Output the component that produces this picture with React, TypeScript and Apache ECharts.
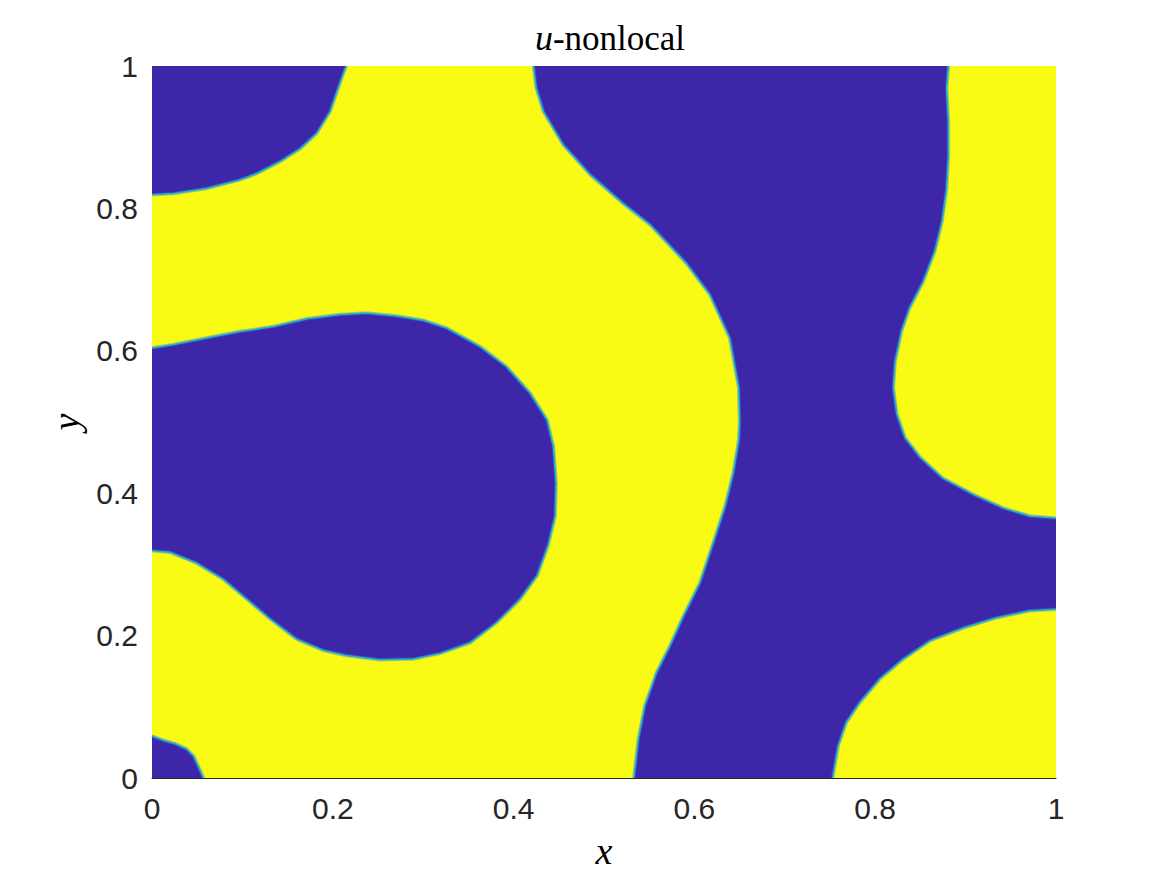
import React, { useEffect, useRef } from "react";
import * as echarts from "echarts";

// Phase boundaries of u (x, y)
const topLeftBoundary: number[][] = [
  [0, 0.819], [0.024, 0.821], [0.06, 0.828], [0.097, 0.84], [0.116, 0.849], [0.142, 0.866],
  [0.164, 0.884], [0.182, 0.905], [0.197, 0.936], [0.206, 0.969], [0.213, 0.994], [0.215, 1],
];
const centralBoundary: number[][] = [
  [0.422, 1], [0.425, 0.969], [0.433, 0.936], [0.455, 0.889], [0.485, 0.847], [0.521, 0.807],
  [0.551, 0.777], [0.591, 0.723], [0.617, 0.679], [0.639, 0.618], [0.649, 0.548], [0.65, 0.501],
  [0.649, 0.475], [0.643, 0.429], [0.634, 0.382], [0.621, 0.331], [0.606, 0.274], [0.588, 0.228],
  [0.573, 0.186], [0.558, 0.148], [0.545, 0.101], [0.538, 0.055], [0.533, 0],
];
const innerBlobBoundary: number[][] = [
  [0, 0.604], [0.024, 0.609], [0.06, 0.618], [0.097, 0.627], [0.134, 0.634], [0.171, 0.645],
  [0.208, 0.651], [0.237, 0.653], [0.271, 0.649], [0.3, 0.643], [0.326, 0.632], [0.363, 0.606],
  [0.392, 0.578], [0.418, 0.541], [0.437, 0.503], [0.444, 0.466], [0.447, 0.414], [0.446, 0.368],
  [0.438, 0.326], [0.426, 0.284], [0.407, 0.251], [0.381, 0.218], [0.352, 0.19], [0.319, 0.175],
  [0.289, 0.167], [0.252, 0.166], [0.215, 0.172], [0.19, 0.179], [0.16, 0.195], [0.131, 0.223],
  [0.105, 0.251], [0.079, 0.279], [0.049, 0.302], [0.02, 0.317], [0, 0.319],
];
const cornerBlobBoundary: number[][] = [
  [0, 0.059], [0.0125, 0.053], [0.026, 0.048], [0.038, 0.041], [0.046, 0.031], [0.051, 0.017], [0.057, 0],
];
const topRightBoundary: number[][] = [
  [0.881, 1], [0.879, 0.969], [0.881, 0.922], [0.881, 0.875], [0.879, 0.828], [0.874, 0.782],
  [0.866, 0.74], [0.853, 0.697], [0.838, 0.66], [0.829, 0.627], [0.822, 0.585], [0.82, 0.548],
  [0.824, 0.511], [0.833, 0.478], [0.85, 0.45], [0.875, 0.421], [0.909, 0.398], [0.942, 0.379],
  [0.971, 0.368], [1, 0.365],
];
const bottomRightBoundary: number[][] = [
  [1, 0.237], [0.971, 0.235], [0.934, 0.225], [0.898, 0.211], [0.861, 0.193], [0.831, 0.167],
  [0.805, 0.139], [0.783, 0.106], [0.768, 0.078], [0.759, 0.045], [0.754, 0.008], [0.753, 0],
];
const domainCorners: number[][] = [[0, 0], [1, 0], [1, 1], [0, 1]];

const BLUE = "#3e26a8";
const YELLOW = "#f9fb15";

const fills: { pts: number[][]; color: string }[] = [
  { pts: domainCorners, color: BLUE },
  { pts: [...topLeftBoundary, ...centralBoundary, [0, 0]], color: YELLOW },
  { pts: [...topRightBoundary, [1, 1]], color: YELLOW },
  { pts: [...bottomRightBoundary, [1, 0]], color: YELLOW },
  { pts: innerBlobBoundary, color: BLUE },
  { pts: [[0, 0], ...cornerBlobBoundary], color: BLUE },
];
const edges: number[][][] = [
  topLeftBoundary,
  centralBoundary,
  topRightBoundary,
  bottomRightBoundary,
  innerBlobBoundary,
  cornerBlobBoundary,
];

const SERIF = "Liberation Serif, DejaVu Serif, serif";

export default function App() {
  const ref = useRef<HTMLDivElement>(null);
  useEffect(() => {
    if (!ref.current) return;
    const chart = echarts.init(ref.current, null, { renderer: "svg" });
    const labelStyle = {
      color: "#262626",
      fontFamily: "Liberation Sans, Arial, Helvetica, sans-serif",
      fontSize: 30,
    };
    chart.setOption({
      animation: false,
      backgroundColor: "#ffffff",
      title: {
        text: "{i|u}-nonlocal",
        left: 605,
        textAlign: "center",
        top: 15,
        textStyle: {
          fontFamily: SERIF,
          fontWeight: "normal",
          fontSize: 35,
          color: "#000",
          rich: {
            i: { fontStyle: "italic", fontFamily: SERIF, fontSize: 36, color: "#000" },
          },
        },
      },
      grid: { left: 152, top: 66, width: 904, height: 713 },
      xAxis: {
        type: "value",
        min: 0,
        max: 1,
        interval: 0.2,
        name: "x",
        nameLocation: "middle",
        nameGap: 54,
        nameTextStyle: { fontFamily: SERIF, fontStyle: "italic", fontSize: 38, color: "#000" },
        axisLine: { show: true, lineStyle: { color: "#262626", width: 1 } },
        axisTick: { show: false },
        splitLine: { show: false },
        axisLabel: { ...labelStyle, margin: 15 },
      },
      yAxis: {
        type: "value",
        min: 0,
        max: 1,
        interval: 0.2,
        name: "y",
        nameLocation: "middle",
        nameRotate: 90,
        nameGap: 62,
        nameTextStyle: { fontFamily: SERIF, fontStyle: "italic", fontSize: 38, color: "#000" },
        axisLine: { show: false },
        axisTick: { show: false },
        splitLine: { show: false },
        axisLabel: { ...labelStyle, margin: 14 },
      },
      series: [
        {
          type: "custom",
          coordinateSystem: "cartesian2d",
          z: 1,
          data: fills.map((_, i) => [i, 0]),
          renderItem: (params: any, api: any) => {
            const f = fills[params.dataIndex];
            return {
              type: "polygon",
              shape: { points: f.pts.map((p) => api.coord(p)) },
              style: { fill: f.color, stroke: null },
            };
          },
        },
        {
          type: "custom",
          coordinateSystem: "cartesian2d",
          z: 2,
          data: edges.map((_, i) => [i, 0]),
          renderItem: (params: any, api: any) => {
            const pts = edges[params.dataIndex].map((p) => api.coord(p));
            return {
              type: "group",
              children: [
                {
                  type: "polyline",
                  shape: { points: pts },
                  style: { fill: null, stroke: "#3a78e6", lineWidth: 3.5, opacity: 0.4 },
                },
                {
                  type: "polyline",
                  shape: { points: pts },
                  style: { fill: null, stroke: "#22b3c8", lineWidth: 1.5 },
                },
              ],
            };
          },
        },
      ],
    });
    return () => chart.dispose();
  }, []);
  return (
    <div
      ref={ref}
      style={{ position: "absolute", left: 0, top: 0, width: 1167, height: 875 }}
    />
  );
}
